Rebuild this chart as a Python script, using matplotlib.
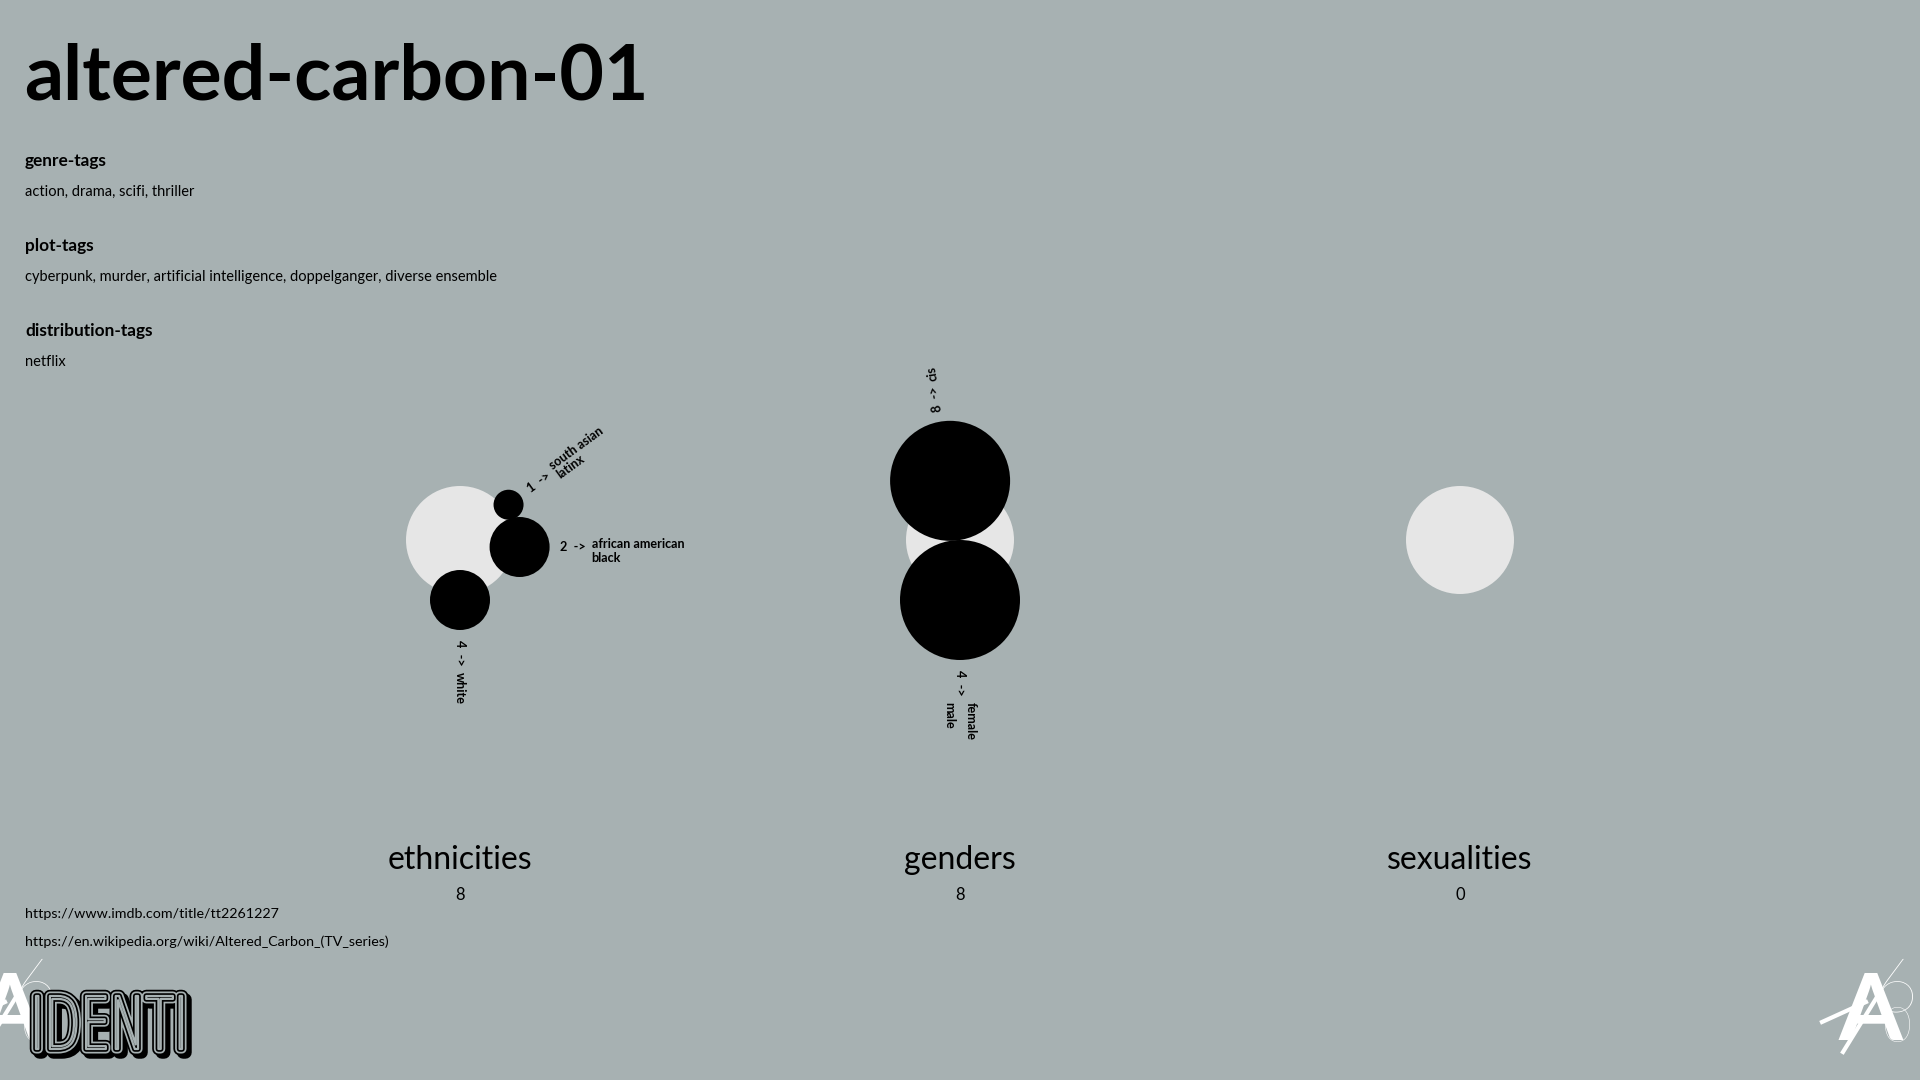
import matplotlib
matplotlib.use("Agg")
import matplotlib.pyplot as plt
from matplotlib.patches import Circle, PathPatch
from matplotlib.textpath import TextPath
from matplotlib.font_manager import FontProperties
from matplotlib.transforms import Affine2D
import matplotlib.patheffects as pe
import numpy as np

# ---------------- data ----------------
title = "altered-carbon-01"
tag_headings = ["genre-tags", "plot-tags", "distribution-tags"]
tag_values = ["action, drama, scifi, thriller",
              "cyberpunk, murder, artificial intelligence, doppelganger, diverse ensemble",
              "netflix"]
links = ["https://www.imdb.com/title/tt2261227",
         "https://en.wikipedia.org/wiki/Altered_Carbon_(TV_series)"]

groups = ["ethnicities", "genders", "sexualities"]
group_totals = [8, 8, 0]

ethnicity_counts = [1, 2, 4]
ethnicity_names = [["south asian", "latinx"], ["african american", "black"], ["white"]]
gender_counts = [8, 4]
gender_names = [["cis"], ["female", "male"]]
sexuality_counts = []
sexuality_names = []

group_counts = [ethnicity_counts, gender_counts, sexuality_counts]
group_names = [ethnicity_names, gender_names, sexuality_names]

# ---------------- layout / style ----------------
W, H = 1920, 1080
BG = "#a7b1b2"
LIGHT = "#e6e6e6"
FONT = "Lato"
group_x = [460, 960, 1460]
group_y = 540
hub_r = 54
orbit = 60
px_per_unit = 7.5
circle_angles = [[-36, 6.7, 90], [-99.5, 90], []]
label_angles = [[-36, 0, 90], [-99.5, 90], []]
# offset of each name line, perpendicular to the label direction (px)
name_offsets = [[[-6, 6], [-3, 11], [0]], [[0], [-10.5, 10.5]], []]
label_gap = 10


def pt(px):
    return px * 72.0 / 100.0


fig = plt.figure(figsize=(W / 100, H / 100), dpi=100, facecolor=BG)
ax = fig.add_axes([0, 0, 1, 1])
ax.set_xlim(0, W)
ax.set_ylim(H, 0)
ax.set_facecolor(BG)
ax.axis("off")
renderer = fig.canvas.get_renderer()


def text_width(s, **kw):
    t = ax.text(0, 0, s, **kw)
    w = t.get_window_extent(renderer).width
    t.remove()
    return w


# title and tags
ax.text(24, 99, title, fontsize=pt(77), fontweight="bold", family=FONT,
        ha="left", va="baseline", color="black")
for i, (hd, val) in enumerate(zip(tag_headings, tag_values)):
    y0 = 161 + i * 85
    ax.text(25, y0, hd, fontsize=pt(17.3), fontweight="bold", family=FONT,
            ha="left", va="center", color="black")
    ax.text(25, y0 + 30.5, val, fontsize=pt(14.6), family=FONT,
            ha="left", va="center", color="black")

for i, ln in enumerate(links):
    ax.text(25, 914 + i * 28, ln, fontsize=pt(14.3), family=FONT,
            ha="left", va="center", color="black")

lab_kw = dict(fontsize=pt(12.6), fontweight="bold", family=FONT, color="black")

for g, (gx, name, tot) in enumerate(zip(group_x, groups, group_totals)):
    ax.add_patch(Circle((gx, group_y), hub_r, facecolor=LIGHT, edgecolor="none", zorder=1))
    for k, (cnt, nms) in enumerate(zip(group_counts[g], group_names[g])):
        r = px_per_unit * cnt * len(nms)
        a = np.deg2rad(circle_angles[g][k])
        cx = gx + orbit * np.cos(a)
        cy = group_y + orbit * np.sin(a)
        ax.add_patch(Circle((cx, cy), r, facecolor="black", edgecolor="none", zorder=2))
        la = label_angles[g][k]
        b = np.deg2rad(la)
        ux, uy = np.cos(b), np.sin(b)
        dx, dy = -uy, ux
        sx = cx + (r + label_gap) * ux
        sy = cy + (r + label_gap) * uy
        prefix = f"{cnt}  ->"
        ax.text(sx, sy, prefix, rotation=-la, rotation_mode="anchor",
                ha="left", va="center", zorder=3, **lab_kw)
        w = text_width(prefix, **lab_kw) + text_width("  ", **lab_kw)
        nx, ny = sx + w * ux, sy + w * uy
        for i, nm in enumerate(nms):
            off = name_offsets[g][k][i]
            ax.text(nx + off * dx, ny + off * dy, nm, rotation=-la,
                    rotation_mode="anchor", ha="left", va="center", zorder=3, **lab_kw)
    ax.text(gx, 860, name, fontsize=pt(32), family=FONT, ha="center",
            va="center", color="black")
    ax.text(gx, 895, str(tot), fontsize=pt(16.5), family=FONT, ha="center",
            va="center", color="black")


# decorative logos
def a6_mark(x0):
    ax.text(x0 + 24, 1040, "A", fontsize=pt(92), fontweight="bold", family=FONT,
            ha="center", va="baseline", color="white", zorder=4)
    ax.text(x0 + 50, 1012, "6", fontsize=pt(76), fontweight="light", family=FONT,
            ha="center", va="baseline", color="white", zorder=4)
    ax.text(x0 + 51, 1042, "0", fontsize=pt(50), fontweight="light", family=FONT,
            ha="center", va="baseline", color="white", zorder=4)
    ax.plot([x0 - 24, x0 + 20], [1022, 1002], color="white", lw=3, zorder=4)
    ax.plot([x0 - 3, x0 + 31], [1052, 997], color="white", lw=3, zorder=4)


a6_mark(1846)
a6_mark(-15)

# striped "IDENTI" logo squeezed into its box
tp = TextPath((0, 0), "IDENTI", size=100,
              prop=FontProperties(family="DejaVu Sans", weight="light"))
ext = tp.get_extents()
box_x0, box_x1, box_y0, box_y1 = 36, 182, 996, 1049
sxf = (box_x1 - box_x0) / ext.width
syf = (box_y1 - box_y0) / ext.height
tr = Affine2D().translate(-ext.x0, -ext.y0).scale(sxf, -syf).translate(box_x0, box_y1)
logo_path = tr.transform_path(tp)
stripes = [pe.Stroke(offset=(2.5, -2.5), linewidth=9, foreground="black", joinstyle="round"),
           pe.Stroke(linewidth=9, foreground="black", joinstyle="round"),
           pe.Stroke(linewidth=6.5, foreground=BG, joinstyle="round"),
           pe.Stroke(linewidth=4, foreground="black", joinstyle="round"),
           pe.Stroke(linewidth=1.6, foreground=BG, joinstyle="round")]
ax.add_patch(PathPatch(logo_path, facecolor="none", edgecolor="none", zorder=5,
                       joinstyle="round", path_effects=stripes))

fig.savefig("out.png", dpi=100, facecolor=BG)
